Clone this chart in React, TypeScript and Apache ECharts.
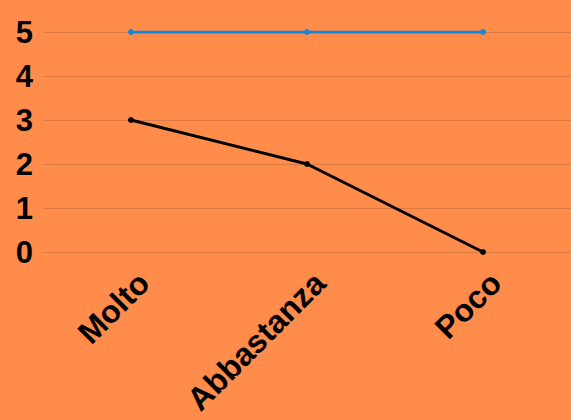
import React, { useEffect, useRef } from "react";
import * as echarts from "echarts";

const categories = ["Molto", "Abbastanza", "Poco"];
const seriesBlue = [5, 5, 5];
const seriesBlack = [3, 2, 0];
const yTicks = [0, 1, 2, 3, 4, 5];

export default function App() {
  const ref = useRef<HTMLDivElement>(null);
  useEffect(() => {
    document.body.style.margin = "0";
    const chart = echarts.init(ref.current!, undefined, { renderer: "svg" });
    chart.setOption({
      animation: false,
      backgroundColor: "#FF8C4B",
      textStyle: { fontFamily: "Liberation Sans" },
      grid: { left: 43, right: 0, top: 32, bottom: 168, containLabel: false },
      xAxis: {
        type: "category",
        data: categories,
        boundaryGap: true,
        axisLine: { show: false },
        axisTick: { show: false },
        axisLabel: {
          interval: 0,
          rotate: 45,
          margin: 13,
          verticalAlign: "top",
          padding: [2, 0, 0, 0],
          color: "#000",
          fontWeight: "bold",
          fontSize: 32,
          fontFamily: "Liberation Sans",
        },
      },
      yAxis: {
        type: "value",
        min: yTicks[0],
        max: yTicks[yTicks.length - 1],
        interval: 1,
        axisLine: { show: false },
        axisTick: { show: false },
        splitLine: { show: true, lineStyle: { color: "#DC7A44", width: 1 } },
        axisLabel: {
          margin: 10,
          color: "#000",
          fontWeight: "bold",
          fontSize: 31,
          fontFamily: "Liberation Sans",
        },
      },
      series: [
        {
          type: "line",
          data: seriesBlue,
          symbol: "circle",
          symbolSize: 6,
          lineStyle: { color: "#1688D8", width: 3 },
          itemStyle: { color: "#1688D8" },
        },
        {
          type: "line",
          data: seriesBlack,
          symbol: "circle",
          symbolSize: 6,
          lineStyle: { color: "#000000", width: 3 },
          itemStyle: { color: "#000000" },
        },
      ],
    });
    return () => chart.dispose();
  }, []);
  return (
    <div
      ref={ref}
      style={{ position: "absolute", left: 0, top: 0, width: 571, height: 420 }}
    />
  );
}
